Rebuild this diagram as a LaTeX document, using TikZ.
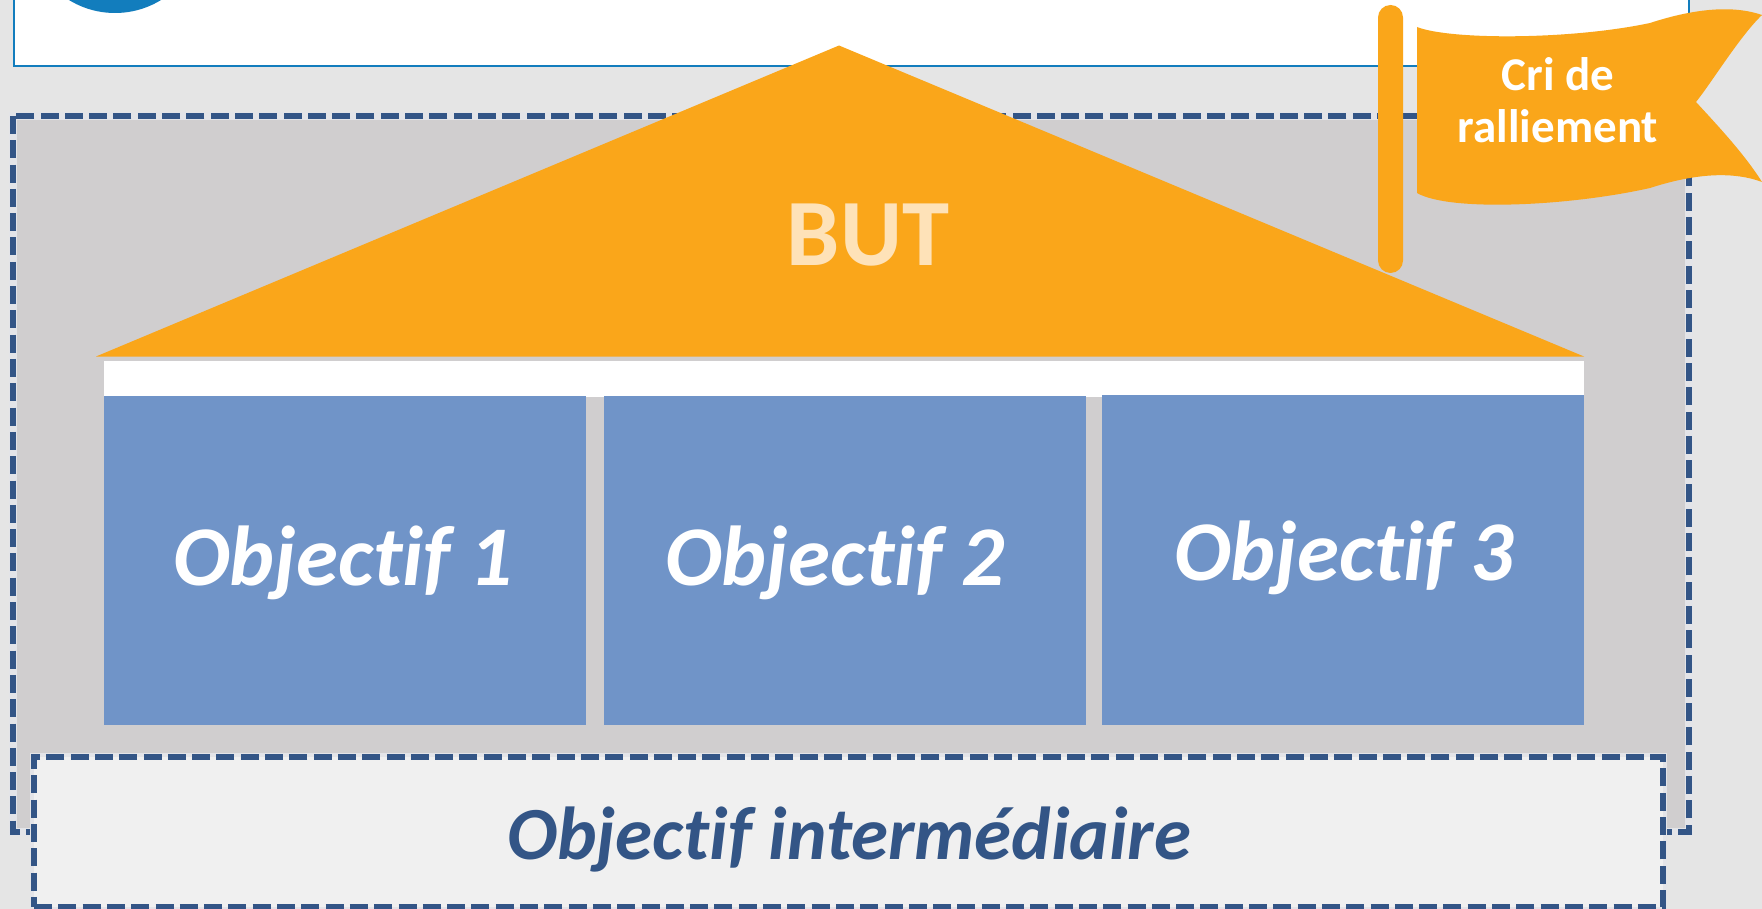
\documentclass[tikz,border=0pt]{standalone}
\usepackage{fontspec}
\setmainfont[RawFeature={-liga;-dlig;-clig}]{Carlito}
\usetikzlibrary{positioning}
\definecolor{bgpaper}{HTML}{E5E5E5}
\definecolor{headblue}{HTML}{127DBD}
\definecolor{dashblue}{HTML}{335586}
\definecolor{dashhalo}{HTML}{E3E4E8}
\definecolor{zonegray}{HTML}{D0CECF}
\definecolor{roofamber}{HTML}{FAA61A}
\definecolor{boxblue}{HTML}{7094C8}
\definecolor{butcream}{HTML}{FEE2B8}
\definecolor{stepgray}{HTML}{F0F0F0}
\tikzset{
  zone/.style={preaction={draw=dashhalo, line width=7.5pt, solid}, draw=dashblue, line width=6.5pt,
    dash pattern=on 18pt off 6.3pt},
  objbox/.style={fill=boxblue, minimum width=482pt, minimum height=329pt, inner sep=0pt},
  objtext/.style={text=white, inner sep=0pt, font=\fontsize{85}{90}\selectfont\bfseries\itshape},
  amber/.style={fill=roofamber},
}
\begin{document}
\begin{tikzpicture}[x=1pt, y=-1pt]
  \useasboundingbox (0,0) rectangle (1762,909);
  \fill[bgpaper] (0,0) rectangle (1762,909);

  % header
  \begin{scope}
    \clip (0,0) rectangle (1762,909);
    \draw[headblue, line width=2.5pt, fill=white] (14,-10) rectangle (1689,66);
    \fill[headblue] (115,-75) circle (88);
  \end{scope}

  \fill[zonegray] (13,116) rectangle (1689,832);
  \draw[zone] (13,116) rectangle (1689,832);

  % roof
  \node[inner sep=0pt, fill=white, minimum width=1480pt, minimum height=36pt, anchor=north west] (band) at (104,360.5) {};
  \node[objbox, anchor=north west] (obj1) at (104,396) {};
  \node[objbox, right=17pt of obj1] (obj2) {};
  \node[objbox, minimum height=330pt, anchor=north east] (obj3) at (1584,395) {};
  \node[objtext, anchor=base] (txt1) at (343,585) {Objectif 1};
  \node[objtext, anchor=base] (txt2) at (835,585) {Objectif 2};
  \node[objtext, anchor=base] (txt3) at (1344,580) {Objectif 3};

  \fill[amber] (96,356.5) -- (839,45.5) -- (1584,356.5) -- cycle;
  \node[text=butcream, inner sep=0pt, anchor=base, font=\fontsize{95}{95}\selectfont\bfseries] (but) at (868,266) {BUT};

  % flag
  \fill[amber, rounded corners=12.5pt] (1378,5) rectangle (1403,273);
  \fill[amber] (1417,27) .. controls (1450,40) and (1570,40) .. (1650,23)
    .. controls (1690,10) and (1730,4) .. (1762,15)
    .. controls (1740,36) and (1712,82) .. (1696,102)
    .. controls (1720,128) and (1745,155) .. (1762,182)
    .. controls (1730,170) and (1690,175) .. (1650,188)
    .. controls (1570,206) and (1450,212) .. (1417,193) -- cycle;
  \node[text=white, align=center, font=\fontsize{47}{52}\selectfont\bfseries] (cri) at (1558,100) {Cri de\\ralliement};

  % intermediate step
  \node[zone, fill=stepgray, minimum width=1629pt, minimum height=150pt, inner sep=0pt, outer sep=0pt, anchor=north west] (step1) at (34,757) {};
  \node[text=dashblue, inner sep=0pt, font=\fontsize{75}{90}\selectfont\bfseries\itshape] (txt4) at (849,840) {Objectif intermédiaire};
\end{tikzpicture}
\end{document}
